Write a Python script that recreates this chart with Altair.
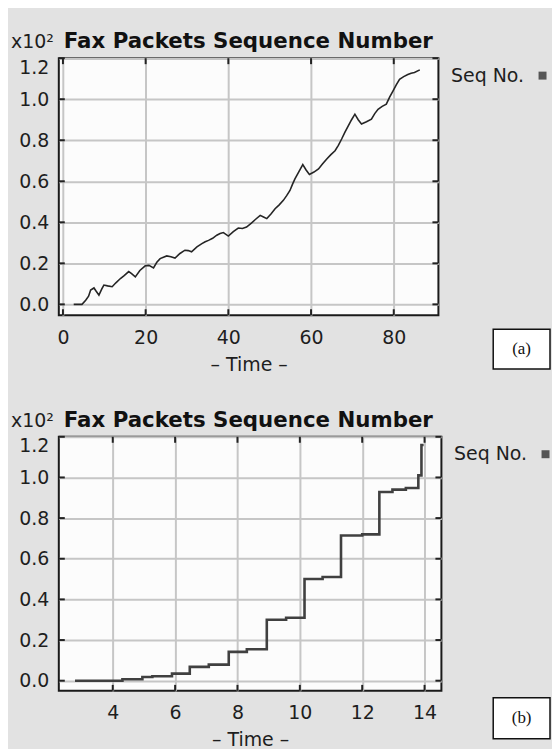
import altair as alt
import pandas as pd

# ---------------- data ----------------
time_a = [2.6, 4.6, 5.5, 6.2, 6.7, 7.5, 8.0, 8.7, 9.4, 9.9, 10.8, 11.9, 12.8, 13.9, 14.8,
          15.9, 16.6, 17.5, 18.6, 19.9, 20.8, 21.9, 22.7, 23.5, 24.3, 25.1, 26.1, 27.1,
          28.3, 29.5, 30.3, 31.1, 32.4, 33.6, 34.4, 35.2, 36.2, 37.2, 38.0, 38.8, 40.0,
          41.2, 42.4, 43.4, 44.4, 45.5, 46.6, 47.7, 48.5, 49.3, 50.3, 51.3, 52.3, 53.3,
          54.1, 54.9, 55.5, 56.1, 57.0, 58.0, 58.8, 59.6, 60.7, 61.8, 62.8, 63.8, 64.8,
          65.8, 66.6, 67.4, 68.2, 69.0, 69.8, 70.6, 71.4, 72.2, 73.4, 74.6, 75.4, 76.2,
          77.2, 78.2, 79.0, 79.8, 80.6, 81.4, 82.4, 83.4, 84.2, 85.0, 86.3]
seq_a = [0.0, 0.0, 0.02, 0.04, 0.07, 0.08, 0.065, 0.045, 0.075, 0.094, 0.09, 0.086, 0.105,
         0.126, 0.14, 0.16, 0.15, 0.134, 0.165, 0.188, 0.19, 0.178, 0.205, 0.223, 0.23,
         0.236, 0.232, 0.226, 0.248, 0.264, 0.262, 0.256, 0.28, 0.296, 0.305, 0.312, 0.322,
         0.337, 0.345, 0.35, 0.333, 0.355, 0.372, 0.37, 0.377, 0.395, 0.415, 0.434, 0.426,
         0.418, 0.44, 0.466, 0.485, 0.507, 0.53, 0.555, 0.585, 0.612, 0.645, 0.681, 0.655,
         0.633, 0.645, 0.66, 0.685, 0.709, 0.73, 0.749, 0.775, 0.806, 0.84, 0.87, 0.9,
         0.927, 0.9, 0.879, 0.89, 0.903, 0.93, 0.951, 0.965, 0.976, 1.01, 1.04, 1.07,
         1.097, 1.11, 1.12, 1.127, 1.13, 1.143]

time_b = [2.79, 4.31, 4.95, 5.27, 5.9, 6.47, 7.08, 7.72, 8.3, 8.94, 9.56, 10.15, 10.73,
          11.32, 12.0, 12.55, 12.97, 13.4, 13.8, 13.9, 13.97]
seq_b = [0.0, 0.007, 0.018, 0.022, 0.035, 0.068, 0.079, 0.142, 0.155, 0.30, 0.31, 0.50,
         0.51, 0.714, 0.72, 0.928, 0.94, 0.948, 1.01, 1.16, 1.16]

y_ticks = [0.0, 0.2, 0.4, 0.6, 0.8, 1.0, 1.2]
x_ticks_a = [0, 20, 40, 60, 80]
x_ticks_b = [4, 6, 8, 10, 12, 14]

series_name = "Seq No."
title_text = "Fax Packets Sequence Number"
scale_text = "x10\u00b2"
x_title = "\u2013 Time \u2013"
panel_labels = ["(a)", "(b)"]

FONT = "DejaVu Sans"
TXT = "#1e1e1e"


def panel(times, seqs, xdom, xticks, ydom, W, H, label, interp, lw, lcolor, box):
    df = pd.DataFrame({"time": times, "seq": seqs, "series": series_name})
    xsc = alt.Scale(domain=xdom, nice=False, zero=False)
    ysc = alt.Scale(domain=ydom, nice=False, zero=False)

    x_enc = alt.X("time:Q", scale=xsc,
                  axis=alt.Axis(values=xticks, format="d", title=x_title, ticks=False,
                                domain=False, labelPadding=13, titlePadding=8,
                                grid=True))
    y_enc = alt.Y("seq:Q", scale=ysc,
                  axis=alt.Axis(values=y_ticks, format=".1f", title=None, labelFlush=True,
                                ticks=False, domain=False, labelPadding=10, grid=True))

    line = alt.Chart(df).mark_line(strokeWidth=lw, interpolate=interp).encode(
        x=x_enc, y=y_enc,
        color=alt.Color("series:N", scale=alt.Scale(range=[lcolor]),
                        legend=alt.Legend(title=None, orient="none", legendX=W + 95,
                                          legendY=8, symbolType="square", symbolSize=64,
                                          symbolFillColor="#555555",
                                          symbolStrokeColor="#555555",
                                          symbolStrokeWidth=0, labelAlign="right",
                                          labelOffset={"expr": "-28"}, labelFont=FONT,
                                          labelFontSize=19, labelColor=TXT, padding=0)),
    )

    ydf = pd.DataFrame({"seq": y_ticks})
    xdf = pd.DataFrame({"time": xticks})
    tick_style = dict(color="#222222", strokeWidth=2)
    yl = alt.Chart(ydf).mark_rule(**tick_style).encode(
        y=alt.Y("seq:Q", scale=ysc), x=alt.value(0), x2=alt.value(6))
    yr = alt.Chart(ydf).mark_rule(**tick_style).encode(
        y=alt.Y("seq:Q", scale=ysc), x=alt.value(W - 6), x2=alt.value(W))
    xb = alt.Chart(xdf).mark_rule(**tick_style).encode(
        x=alt.X("time:Q", scale=xsc), y=alt.value(H - 6), y2=alt.value(H))
    xt = alt.Chart(xdf).mark_rule(**tick_style).encode(
        x=alt.X("time:Q", scale=xsc), y=alt.value(0), y2=alt.value(6))

    # heading: "x10²" multiplier (normal) followed by the bold title
    hdf = alt.Data(values=[{"m": scale_text, "t": title_text}])
    mult = alt.Chart(hdf).mark_text(font=FONT, fontSize=19, color=TXT, align="left",
                                    baseline="alphabetic").encode(
        text="m:N", x=alt.value(-48), y=alt.value(-10))
    head = alt.Chart(hdf).mark_text(font=FONT, fontSize=21.4, fontWeight="bold",
                                    color="#111111", align="left",
                                    baseline="alphabetic").encode(
        text="t:N", x=alt.value(5), y=alt.value(-10))

    bdf = alt.Data(values=[{"label": label}])
    bx0, bx1, by0, by1 = box
    rect = alt.Chart(bdf).mark_rect(fill="white", stroke="#111111", strokeWidth=1.5).encode(
        x=alt.value(bx0), x2=alt.value(bx1), y=alt.value(by0), y2=alt.value(by1))
    txt = alt.Chart(bdf).mark_text(font="Liberation Serif", fontSize=17, color="#111111",
                                   align="center", baseline="middle").encode(
        text="label:N", x=alt.value((bx0 + bx1) / 2), y=alt.value((by0 + by1) / 2))

    return alt.layer(line, yl, yr, xb, xt, mult, head, rect, txt).properties(
        width=W, height=H,
    )


top = panel(time_a, seq_a, [-1.0, 90.8], x_ticks_a, [-0.053, 1.2], 381, 258,
            panel_labels[0], "linear", 1.6, "#252525", (436, 493, 272, 312))
bottom = panel(time_b, seq_b, [2.27, 14.54], x_ticks_b, [-0.05, 1.2], 384, 255,
               panel_labels[1], "step-after", 2.6, "#404040", (436, 493, 262, 303))

chart = alt.vconcat(top, bottom, spacing=34).resolve_scale(
    x="independent", y="independent", color="independent"
).resolve_legend(color="independent").properties(
    background="#e2e2e2",
    padding={"top": 21, "left": 2, "right": 0, "bottom": 0},
).configure_view(
    fill="#fcfcfc", stroke="#1a1a1a", strokeWidth=2
).configure_axis(
    labelFont=FONT, labelFontSize=19, labelColor=TXT,
    titleFont=FONT, titleFontSize=19, titleColor=TXT, titleFontWeight="normal",
    gridColor="#c6c6c6", gridWidth=2,
)

chart.save("out.html", embed_options={"renderer": "svg", "actions": False})
